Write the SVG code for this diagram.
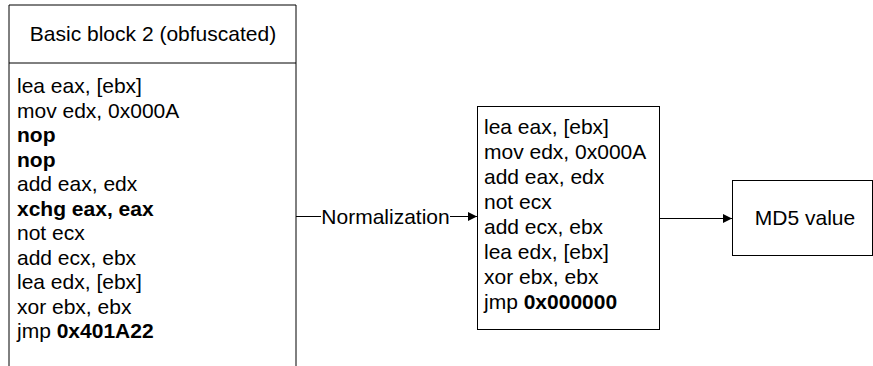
<svg xmlns="http://www.w3.org/2000/svg" width="873" height="366" viewBox="0 0 873 366">
<defs>
<style>
text{font-family:"Liberation Sans",Arial,sans-serif;font-size:21px;fill:#000}
.b{font-weight:bold}
.box{fill:#fff;stroke:#000;stroke-width:1}
.ln{stroke:#000;stroke-width:1;fill:none}
</style>
<marker id="ah" viewBox="0 0 10 10" refX="10" refY="5" markerWidth="11" markerHeight="9" markerUnits="userSpaceOnUse" orient="auto"><path d="M0,0 L10,5 L0,10 Z" fill="#000"/></marker>
</defs>
<rect width="873" height="366" fill="#fff"/>
<g id="block2">
<path class="ln" d="M9,370 V5 H296 V370" fill="#fff"/>
<path class="ln" d="M9,63 H296"/>
<text x="153" y="41" text-anchor="middle">Basic block 2 (obfuscated)</text>
<text x="17" y="93">lea eax, [ebx]</text>
<text x="17" y="117.5">mov edx, 0x000A</text>
<text x="17" y="142" class="b">nop</text>
<text x="17" y="166.5" class="b">nop</text>
<text x="17" y="191">add eax, edx</text>
<text x="17" y="215.5" class="b">xchg eax, eax</text>
<text x="17" y="240">not ecx</text>
<text x="17" y="264.5">add ecx, ebx</text>
<text x="17" y="289">lea edx, [ebx]</text>
<text x="17" y="313.5">xor ebx, ebx</text>
<text x="17" y="338">jmp <tspan class="b">0x401A22</tspan></text>
</g>
<g id="normalized">
<rect class="box" x="477.5" y="106.5" width="182" height="223"/>
<text x="484" y="134">lea eax, [ebx]</text>
<text x="484" y="159">mov edx, 0x000A</text>
<text x="484" y="184">add eax, edx</text>
<text x="484" y="209">not ecx</text>
<text x="484" y="234">add ecx, ebx</text>
<text x="484" y="259">lea edx, [ebx]</text>
<text x="484" y="284">xor ebx, ebx</text>
<text x="484" y="309">jmp <tspan class="b">0x000000</tspan></text>
</g>
<g id="md5">
<rect class="box" x="732.5" y="180.5" width="140" height="75"/>
<text x="805" y="225" text-anchor="middle">MD5 value</text>
</g>
<g id="connectors">
<path class="ln" d="M296,216.5 H321"/>
<path class="ln" d="M450,216.5 H477" marker-end="url(#ah)"/>
<text x="385.5" y="223.5" text-anchor="middle">Normalization</text>
<path class="ln" d="M660,218.5 H732" marker-end="url(#ah)"/>
</g>
</svg>
